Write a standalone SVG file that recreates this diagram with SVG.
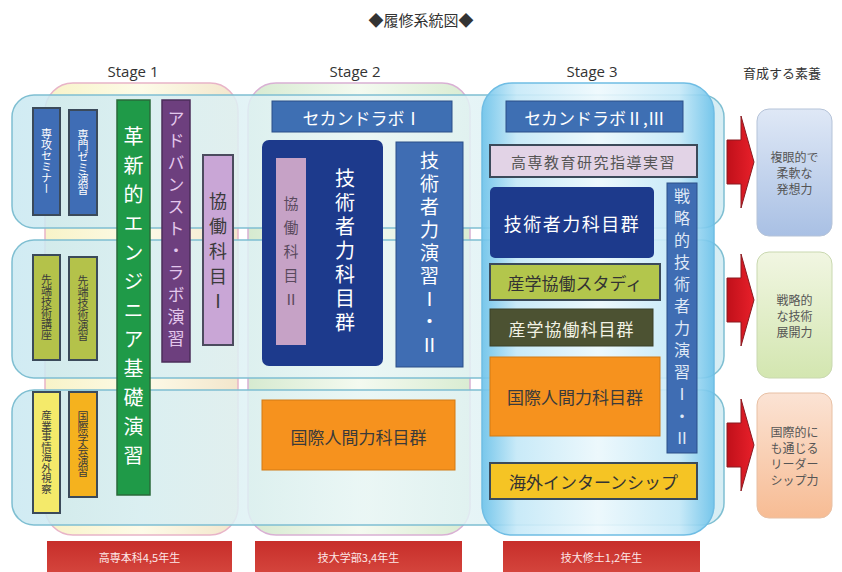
<svg xmlns="http://www.w3.org/2000/svg" width="842" height="572" viewBox="0 0 842 572">
<defs>
<linearGradient id="gS1" x1="0" y1="0" x2="1" y2="0"><stop offset="0" stop-color="#f8f3c8"/><stop offset="0.5" stop-color="#fdfbe8"/><stop offset="1" stop-color="#f3e6cc"/></linearGradient>
<linearGradient id="gS2" x1="0" y1="0" x2="1" y2="0"><stop offset="0" stop-color="#d6ead0"/><stop offset="0.5" stop-color="#f4faf0"/><stop offset="1" stop-color="#d9ecd2"/></linearGradient>
<linearGradient id="gS3" x1="0" y1="0" x2="1" y2="0"><stop offset="0" stop-color="#6cc2ea"/><stop offset="0.15" stop-color="#c6e9f8"/><stop offset="0.5" stop-color="#eef9fd"/><stop offset="0.85" stop-color="#c6e9f8"/><stop offset="1" stop-color="#6cc2ea"/></linearGradient>
<linearGradient id="gRow" x1="0" y1="0" x2="1" y2="0"><stop offset="0" stop-color="#c9e8f1"/><stop offset="0.5" stop-color="#e9f6f6"/><stop offset="1" stop-color="#cfeaf2"/></linearGradient>
<linearGradient id="gArrow" x1="0" y1="0" x2="1" y2="0"><stop offset="0" stop-color="#c0101a"/><stop offset="1" stop-color="#e8202a"/></linearGradient>
<linearGradient id="gB1" x1="0" y1="0" x2="0" y2="1"><stop offset="0" stop-color="#dfe8f6"/><stop offset="1" stop-color="#a9c0e4"/></linearGradient>
<linearGradient id="gB2" x1="0" y1="0" x2="0" y2="1"><stop offset="0" stop-color="#f1f6e2"/><stop offset="1" stop-color="#d3e6b0"/></linearGradient>
<linearGradient id="gB3" x1="0" y1="0" x2="0" y2="1"><stop offset="0" stop-color="#fbe3d4"/><stop offset="1" stop-color="#f7bc94"/></linearGradient>
<linearGradient id="gRed" x1="0" y1="0" x2="0" y2="1"><stop offset="0" stop-color="#c72e2a"/><stop offset="1" stop-color="#d4443c"/></linearGradient>
<style>
text{font-family:"Noto Sans CJK JP","Noto Sans",sans-serif;}
.stage{font-family:"Open Sans","Liberation Sans",sans-serif;font-size:15px;fill:#333;text-anchor:middle;}
.v{writing-mode:vertical-rl;text-orientation:upright;text-anchor:middle;dominant-baseline:central;}
.h{text-anchor:middle;dominant-baseline:central;}
.w{fill:#ffffff;}
.d{fill:#3a3a3a;}
.bd{stroke:#3b4a5a;stroke-width:2;}
</style>
</defs>
<rect width="842" height="572" fill="#ffffff"/>
<text x="421" y="19" class="h" font-size="15" fill="#333">◆履修系統図◆</text>
<text x="133" y="77" class="stage">Stage 1</text>
<text x="355" y="77" class="stage">Stage 2</text>
<text x="592" y="77" class="stage">Stage 3</text>
<text x="782" y="72" class="h" font-size="13" fill="#333">育成する素養</text>

<g id="backgrounds">
<rect x="45" y="83" width="193" height="452" rx="28" fill="url(#gS1)" stroke="#e8b4c8" stroke-width="1.5"/>
<rect x="248" y="83" width="222" height="452" rx="28" fill="url(#gS2)" stroke="#d9b0d4" stroke-width="1.5"/>
<rect x="12" y="95" width="712" height="133" rx="22" fill="url(#gRow)" fill-opacity="0.85" stroke="#7fbfd2" stroke-width="1.5"/>
<rect x="12" y="240" width="712" height="138" rx="22" fill="url(#gRow)" fill-opacity="0.85" stroke="#7fbfd2" stroke-width="1.5"/>
<rect x="12" y="390" width="712" height="135" rx="22" fill="url(#gRow)" fill-opacity="0.85" stroke="#7fbfd2" stroke-width="1.5"/>
<rect x="482" y="83" width="232" height="452" rx="30" fill="url(#gS3)" fill-opacity="0.9" stroke="#6fbde4" stroke-width="1.5"/>
</g>

<g id="n-seminar"><rect x="33" y="108" width="27" height="107" fill="#3f6db5" class="bd"/><text x="46.5" y="161" class="v w" font-size="11">専攻セミナー</text></g>
<g id="n-zemi"><rect x="69" y="110" width="28" height="105" fill="#3f6db5" class="bd"/><text x="83" y="162" class="v w" font-size="11">専門ゼミ演習</text></g>
<g id="n-sentan1"><rect x="33" y="255" width="27" height="105" fill="#b4c24a" class="bd"/><text x="46.5" y="307" class="v d" font-size="11">先端技術講座</text></g>
<g id="n-sentan2"><rect x="69" y="257" width="28" height="103" fill="#b4c24a" class="bd"/><text x="83" y="308" class="v d" font-size="11">先端技術演習</text></g>
<g id="n-shisatsu"><rect x="33" y="392" width="27" height="121" fill="#f4ea6a" class="bd"/><text x="46.5" y="452" class="v d" font-size="10.5">産業事情海外視察</text></g>
<g id="n-gakkai"><rect x="69" y="392" width="28" height="105" fill="#f5b21e" class="bd"/><text x="83" y="444" class="v d" font-size="11">国際学会演習</text></g>
<g id="n-kakushin"><rect x="117" y="100" width="33" height="395" fill="#1f9a48" stroke="#2a6a3a" stroke-width="1.5"/><text x="133.5" y="300" class="v w" font-size="20" letter-spacing="9">革新的エンジニア基礎演習</text></g>
<g id="n-advanced"><rect x="162" y="100" width="28" height="262" fill="#6d3f7e" stroke="#4b2e5a" stroke-width="1.5"/><text x="176" y="231" class="v" fill="#e3c8ec" font-size="17" letter-spacing="5">アドバンスト・ラボ演習</text></g>
<g id="n-kyodo1"><rect x="203" y="155" width="30" height="190" fill="#c9a6d6" stroke="#4b4b5e" stroke-width="2"/><text x="218" y="255" class="v d" font-size="18" letter-spacing="7">協働科目Ⅰ</text></g>

<g id="n-second1"><rect x="272" y="101" width="180" height="31" fill="#3e6fb3" stroke="#2b4f88" stroke-width="1"/><text x="362" y="117" class="h w" font-size="17">セカンドラボⅠ</text></g>
<g id="n-gijutsu2"><rect x="262" y="140" width="121" height="226" rx="7" fill="#1d3a8c"/><text x="345" y="252" class="v w" font-size="20" letter-spacing="4">技術者力科目群</text></g>
<g id="n-kyodo2"><rect x="276" y="158" width="30" height="187" fill="#c6a2c6"/><text x="291" y="256" class="v" fill="#5a4a5e" font-size="15" letter-spacing="9">協働科目Ⅱ</text></g>
<g id="n-enshu2"><rect x="396" y="142" width="67" height="225" fill="#3f6db3" stroke="#2b4f88" stroke-width="1"/><text x="429.5" y="255" class="v w" font-size="19" letter-spacing="4">技術者力演習Ⅰ・Ⅱ</text></g>
<g id="n-kokusai2"><rect x="262" y="400" width="193" height="70" fill="#f6921e" stroke="#d27a14" stroke-width="1"/><text x="358.5" y="436" class="h d" font-size="17">国際人間力科目群</text></g>

<g id="n-second23"><rect x="506" y="101" width="177" height="31" fill="#3e6fb3" stroke="#2b4f88" stroke-width="1"/><text x="594.5" y="117" class="h w" font-size="17">セカンドラボⅡ,Ⅲ</text></g>
<g id="n-kosen"><rect x="490" y="145" width="207" height="32" fill="#e2d3e6" class="bd"/><text x="593.5" y="161" class="h" fill="#555" font-size="15" letter-spacing="1.5">高専教育研究指導実習</text></g>
<g id="n-gijutsu3"><rect x="490" y="187" width="164" height="71" rx="5" fill="#1d3a8c"/><text x="572" y="223" class="h w" font-size="18" letter-spacing="1.5">技術者力科目群</text></g>
<g id="n-study"><rect x="490" y="264" width="170" height="36" fill="#b3c64c" class="bd"/><text x="575" y="282" class="h" fill="#333" font-size="17">産学協働スタディ</text></g>
<g id="n-sangaku"><rect x="490" y="309" width="163" height="37" fill="#4c5232" stroke="#3b4028" stroke-width="1"/><text x="571.5" y="328" class="h" fill="#f2f2e4" font-size="17" letter-spacing="1">産学協働科目群</text></g>
<g id="n-kokusai3"><rect x="490" y="357" width="170" height="79" fill="#f6921e" stroke="#d27a14" stroke-width="1"/><text x="575" y="396" class="h d" font-size="17">国際人間力科目群</text></g>
<g id="n-senryaku"><rect x="667" y="183" width="30" height="270" fill="#3f6db3" stroke="#2b4f88" stroke-width="1"/><text x="682" y="320" class="v" fill="#dfe8f6" font-size="16" letter-spacing="6">戦略的技術者力演習Ⅰ・Ⅱ</text></g>
<g id="n-intern"><rect x="490" y="463" width="207" height="36" fill="#f5c424" class="bd"/><text x="593.5" y="481" class="h" fill="#333" font-size="17">海外インターンシップ</text></g>

<g id="connectors">
<path d="M727,140 h14 v-24 l13,46 l-13,46 v-24 h-14 z" fill="url(#gArrow)" stroke="#8a1a20" stroke-width="1"/>
<path d="M727,278 h14 v-24 l13,46 l-13,46 v-24 h-14 z" fill="url(#gArrow)" stroke="#8a1a20" stroke-width="1"/>
<path d="M727,423 h14 v-24 l13,46 l-13,46 v-24 h-14 z" fill="url(#gArrow)" stroke="#8a1a20" stroke-width="1"/>
</g>

<g id="n-soyo1"><rect x="757" y="109" width="75" height="127" rx="12" fill="url(#gB1)" stroke="#b5c3d8" stroke-width="1"/><text x="794.5" y="172" class="h" fill="#555" font-size="12"><tspan x="794.5" dy="-16">複眼的で</tspan><tspan x="794.5" dy="16">柔軟な</tspan><tspan x="794.5" dy="16">発想力</tspan></text></g>
<g id="n-soyo2"><rect x="757" y="252" width="75" height="126" rx="12" fill="url(#gB2)" stroke="#c9d8b0" stroke-width="1"/><text x="794.5" y="315" class="h" fill="#555" font-size="12"><tspan x="794.5" dy="-16">戦略的</tspan><tspan x="794.5" dy="16">な技術</tspan><tspan x="794.5" dy="16">展開力</tspan></text></g>
<g id="n-soyo3"><rect x="757" y="393" width="75" height="125" rx="12" fill="url(#gB3)" stroke="#e8c0a4" stroke-width="1"/><text x="794.5" y="455" class="h" fill="#555" font-size="12"><tspan x="794.5" dy="-24">国際的に</tspan><tspan x="794.5" dy="16">も通じる</tspan><tspan x="794.5" dy="16">リーダー</tspan><tspan x="794.5" dy="16">シップ力</tspan></text></g>

<g id="n-year1"><rect x="47" y="541" width="185" height="31" fill="url(#gRed)"/><text x="139.5" y="557" class="h" fill="#fde8e8" font-size="11">高専本科4,5年生</text></g>
<g id="n-year2"><rect x="255" y="541" width="207" height="31" fill="url(#gRed)"/><text x="358.5" y="557" class="h" fill="#fde8e8" font-size="11">技大学部3,4年生</text></g>
<g id="n-year3"><rect x="503" y="541" width="197" height="31" fill="url(#gRed)"/><text x="601.5" y="557" class="h" fill="#fde8e8" font-size="11">技大修士1,2年生</text></g>
</svg>
